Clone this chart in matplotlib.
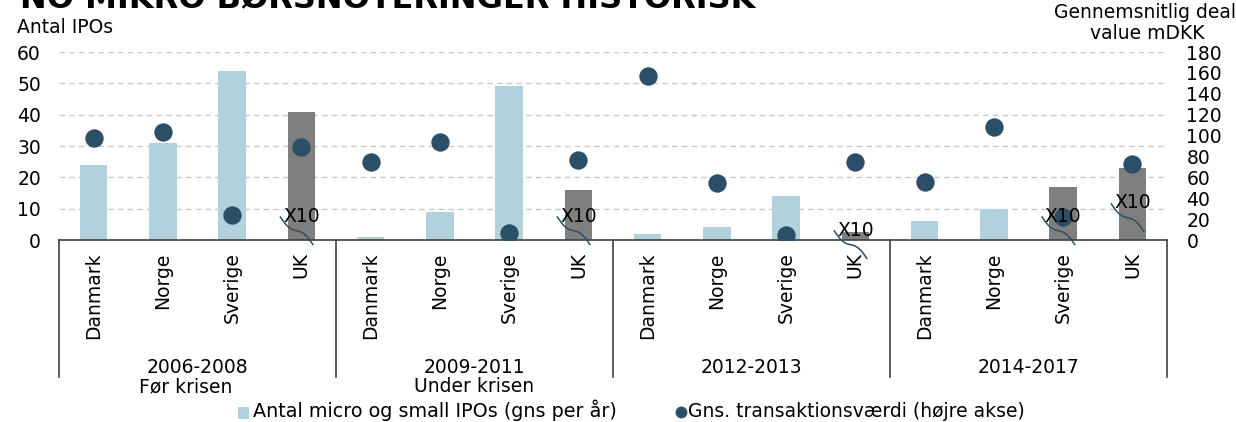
import numpy as np
import matplotlib
matplotlib.use("Agg")
import matplotlib.pyplot as plt
from matplotlib.patches import Rectangle
from matplotlib.lines import Line2D
from matplotlib.transforms import blended_transform_factory

# ---------------- data ----------------
countries = ["Danmark", "Norge", "Sverige", "UK"]
periods = ["2006-2008", "2009-2011", "2012-2013", "2014-2017"]
period_notes = ["Før krisen", "Under krisen", "", ""]
categories = countries * len(periods)
ipos = [24, 31, 54, 41,
        1, 9, 49, 16,
        2, 4, 14, 2.5,
        6, 10, 17, 23]
scaled_x10 = [0, 0, 0, 1,
              0, 0, 0, 1,
              0, 0, 0, 1,
              0, 0, 1, 1]
deal_value = [98, 103, 24, 89,
              75, 94, 7, 77,
              157, 55, 5, 75,
              56, 108, 22, 73]
x10_label = "X10"
left_ticks = [0, 10, 20, 30, 40, 50, 60]
right_ticks = [0, 20, 40, 60, 80, 100, 120, 140, 160, 180]

title = "NO MIKRO BØRSNOTERINGER HISTORISK"
left_label = "Antal IPOs"
right_label = ["Gennemsnitlig deal", "value mDKK"]
legend_bar = "Antal micro og small IPOs (gns per år)"
legend_dot = "Gns. transaktionsværdi (højre akse)"

# ---------------- style ----------------
LIGHT = "#b1d2dc"
GRAY = "#7f7f7f"
DOT = "#2b4f66"
AXC = "#404040"
FS = 13.5
plt.rcParams["font.family"] = ["DejaVu Sans"]

W, H = 1236, 422
fig = plt.figure(figsize=(W / 100, H / 100), dpi=100)

def fx(px):
    return px / W

def fy(py):
    return 1 - py / H

ax = fig.add_axes([fx(59), fy(240), fx(1167) - fx(59), fy(52) - fy(240)])
n = len(categories)
x = np.arange(n)
colors = [GRAY if s else LIGHT for s in scaled_x10]
ax.bar(x, ipos, width=0.40, color=colors, zorder=2)
ax.set_xlim(-0.5, n - 0.5)
ax.set_ylim(0, 60)
ax.set_yticks(left_ticks)
ax.set_xticks(x)
ax.set_xticklabels(categories, rotation=90, va="top", ha="center", fontsize=FS)
ax.tick_params(axis="x", length=0, pad=9)
ax.tick_params(axis="y", length=0, pad=13, labelsize=FS)
for s in ["top", "right", "left"]:
    ax.spines[s].set_visible(False)
ax.spines["bottom"].set_color(AXC)
ax.spines["bottom"].set_linewidth(1.2)
ax.spines["bottom"].set_zorder(3)
for v in left_ticks[1:]:
    ax.axhline(v, color="#c8c8c8", linestyle=(0, (4, 3)), linewidth=1, zorder=1)

# group separators and group labels
trans_sep = ax.get_xaxis_transform()
sep_bottom = -(377 - 240) / 188
for b in np.arange(-0.5, n, 4):
    ax.plot([b, b], [0, sep_bottom], transform=trans_sep, color=AXC,
            linewidth=1.2, clip_on=False)
tb = blended_transform_factory(ax.transData, fig.transFigure)
for i, (p, note) in enumerate(zip(periods, period_notes)):
    c = i * 4 + 1.5
    ax.text(c, fy(373), p, transform=tb, ha="center", va="baseline", fontsize=FS)
    if note:
        cx = c - 0.17 if i == 0 else c
        ax.text(cx, fy(392), note, transform=tb, ha="center", va="baseline",
                fontsize=FS)

ax2 = ax.twinx()
ax2.set_ylim(0, 180)
ax2.set_yticks(right_ticks)
ax2.tick_params(axis="y", length=0, pad=14, labelsize=FS)
for s in ax2.spines.values():
    s.set_visible(False)
ax2.scatter(x, deal_value, s=175, color=DOT, zorder=4, linewidths=0)

# X10 markers
fig.canvas.draw()
t = np.linspace(0, 1, 60)
label_ypix = {3: 216, 7: 216, 11: 230, 14: 216, 15: 203}
for i in range(n):
    if not scaled_x10[i]:
        continue
    ypix = label_ypix[i]
    cx_disp = ax.transData.transform((x[i], 0))[0]
    cy_disp = (H - ypix)
    ax2.text(cx_disp, cy_disp, x10_label, transform=None, ha="center",
             va="center", fontsize=FS, zorder=6, color="black")
    dx = -21 + 32.5 * t
    dy = 27.5 * t + 3.2 * np.sin(2 * np.pi * t)
    ax2.plot(cx_disp + dx, cy_disp - 1 - dy, transform=None, color=DOT,
             linewidth=1.1, zorder=7, clip_on=False)

# texts
fig.text(fx(20), fy(8), title, fontsize=23, fontweight="bold", ha="left",
         va="baseline")
fig.text(fx(17), fy(33), left_label, fontsize=FS, ha="left", va="baseline")
fig.text(fx(1145), fy(18), right_label[0], fontsize=FS, ha="center", va="baseline")
fig.text(fx(1147), fy(39), right_label[1], fontsize=FS, ha="center", va="baseline")

# legend
fig.add_artist(Rectangle((fx(238), fy(419)), 11 / W, 12 / H,
                         transform=fig.transFigure, color=LIGHT, linewidth=0))
fig.text(fx(253), fy(417), legend_bar, fontsize=13.8, ha="left", va="baseline")
fig.add_artist(Line2D([fx(681)], [fy(412)], transform=fig.transFigure,
                      marker="o", markersize=7.5, color=DOT, linestyle="none"))
fig.text(fx(688), fy(417), legend_dot, fontsize=FS, ha="left", va="baseline")

fig.savefig("out.png", dpi=100)
